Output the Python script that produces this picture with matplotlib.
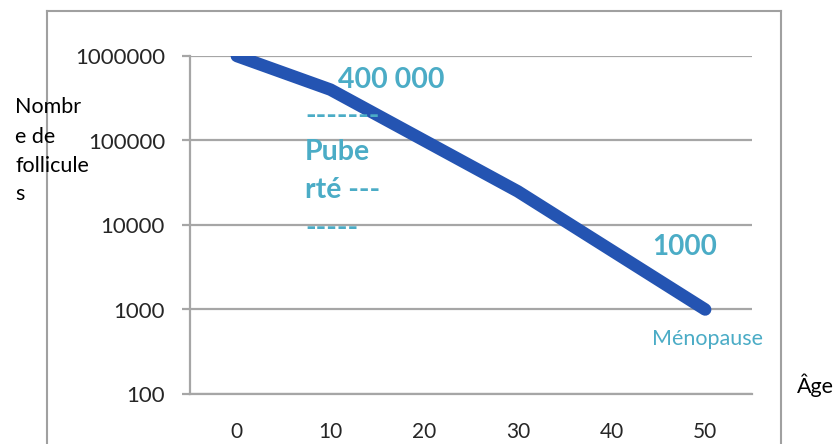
import matplotlib
matplotlib.use("Agg")
import matplotlib.pyplot as plt
from matplotlib.lines import Line2D
from matplotlib.ticker import FixedLocator, FuncFormatter, NullLocator

# values
ages = [0, 10, 20, 30, 40, 50]
follicles = [1000000, 400000, 100000, 25000, 5000, 1000]
y_ticks = [100, 1000, 10000, 100000, 1000000]
x_ticks = [0, 10, 20, 30, 40, 50]

W, H = 835, 444
line_color = "#2454B2"
note_color = "#4BACC6"
grid_color = "#A6A6A6"
text_color = "#262626"

plt.rcParams["font.family"] = ["Lato", "DejaVu Sans"]


def fx(x):
    return x / W


def fy(y):
    return 1 - y / H


fig = plt.figure(figsize=(W / 100, H / 100), dpi=100)

# outer chart frame
for xs, ys in [([47, 47], [11, 444]), ([47, 781], [11, 11]), ([781, 781], [11, 444])]:
    fig.add_artist(Line2D([fx(v) for v in xs], [fy(v) for v in ys], color="#A0A0A0", lw=1.5,
                          transform=fig.transFigure))

ax = fig.add_axes([fx(190), fy(394), fx(752) - fx(190), fy(56) - fy(394)])
ax.set_yscale("log")
ax.set_ylim(100, 1000000)
ax.set_xlim(-5, 55)

ax.plot(ages, follicles, color=line_color, lw=9, solid_capstyle="round", solid_joinstyle="round",
        zorder=3)

ax.yaxis.set_major_locator(FixedLocator(y_ticks))
ax.yaxis.set_minor_locator(NullLocator())
ax.yaxis.set_major_formatter(FuncFormatter(lambda v, p: "%d" % round(v)))
ax.set_xticks(x_ticks)
ax.grid(axis="y", color=grid_color, lw=1.6)
ax.set_axisbelow(True)

for side in ["top", "right"]:
    ax.spines[side].set_visible(False)
ax.spines["left"].set_color(grid_color)
ax.spines["left"].set_linewidth(1.6)
ax.spines["bottom"].set_color(grid_color)
ax.spines["bottom"].set_linewidth(1.6)

ax.tick_params(axis="y", length=6, width=1.6, color=grid_color, pad=12, labelsize=16,
               labelcolor=text_color)
ax.tick_params(axis="x", length=0, pad=20, labelsize=15, labelcolor=text_color)

# axis titles
for txt, yb in [("Nombr", 113), ("e de", 143), ("follicule", 172), ("s", 200)]:
    fig.text(fx(15), fy(yb), txt, fontsize=15.5, color="black", va="baseline", ha="left")
fig.text(fx(797), fy(393), "Âge", fontsize=15.5, color="black", va="baseline", ha="left")

# annotations
fig.text(fx(338), fy(88), "400 000", fontsize=20.5, fontweight="bold", color=note_color,
         va="baseline", ha="left")
for txt, yb in [("-------", 124), ("Pube", 160), ("rté ---", 198), ("-----", 236)]:
    fig.text(fx(305), fy(yb), txt, fontsize=20.5, fontweight="bold", color=note_color,
             va="baseline", ha="left")
fig.text(fx(652), fy(255), "1000", fontsize=20, fontweight="bold", color=note_color,
         va="baseline", ha="left")
fig.text(fx(652), fy(345), "Ménopause", fontsize=15.5, color=note_color, va="baseline", ha="left")

fig.savefig("out.png", dpi=100)
